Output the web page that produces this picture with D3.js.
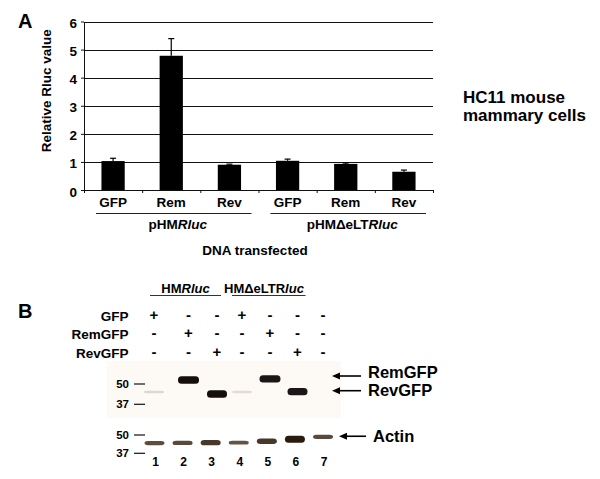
<!DOCTYPE html>
<html>
<head>
<meta charset="utf-8">
<script src="https://cdn.jsdelivr.net/npm/d3@7"></script>
<style>
  body { margin: 0; background: #fff; }
  text { font-family: "Liberation Sans", Arial, sans-serif; font-weight: bold; fill: #000; }
</style>
</head>
<body>
<div id="chart"></div>
<script>
// Panel A: relative Rluc values
const groups = ["pHMRluc", "pHMΔeLTRluc"];
const treatments = ["GFP", "Rem", "Rev", "GFP", "Rem", "Rev"];
const rlucMeans = [1.03, 4.78, 0.90, 1.04, 0.93, 0.65];
const rlucErrors = [0.10, 0.61, 0.02, 0.06, 0.03, 0.06];
const yTicks = [0, 1, 2, 3, 4, 5, 6];

// Panel B: western blot
const lanes = [1, 2, 3, 4, 5, 6, 7];
const conditionRows = ["GFP", "RemGFP", "RevGFP"];
const gfpSigns = ["+", "-", "-", "+", "-", "-", "-"];
const remGfpSigns = ["-", "+", "-", "-", "+", "-", "-"];
const revGfpSigns = ["-", "-", "+", "-", "-", "+", "-"];
const markerKDa = [50, 37];
const remGfpSignal = [0, 1, 0, 0, 0.95, 0, 0];
const remGfpKDa = [53, 53.1, 53, 53, 54, 53, 53];
const revGfpSignal = [0.1, 0, 1, 0.08, 0, 0.95, 0];
const revGfpKDa = [44.4, 44, 43.1, 44.4, 44, 44.6, 44];
const actinSignal = [0.72, 0.74, 0.84, 0.68, 0.84, 1, 0.74];
const actinKDa = [43.8, 43.9, 44.1, 44.1, 45.1, 46.6, 48.5];

const width = 600, height = 479;
const svg = d3.select("#chart").append("svg")
    .attr("width", width)
    .attr("height", height);

// ---------- Panel A ----------
const plot = { left: 84, right: 433, top: 21.5, bottom: 190 };

const x = d3.scaleBand()
    .domain(d3.range(treatments.length))
    .range([plot.left, plot.right]);

const y = d3.scaleLinear()
    .domain([0, 6])
    .range([plot.bottom, plot.top]);

// gridlines
svg.append("g")
    .selectAll("line")
    .data(yTicks.filter(d => d > 0))
    .join("line")
    .attr("x1", plot.left)
    .attr("x2", plot.right)
    .attr("y1", d => Math.round(y(d)) + 0.5)
    .attr("y2", d => Math.round(y(d)) + 0.5)
    .attr("stroke", "#111")
    .attr("stroke-width", 1.1);

// y axis
const yAxis = svg.append("g")
    .attr("transform", `translate(${plot.left},0)`)
    .call(d3.axisLeft(y).tickValues(yTicks).tickFormat(d3.format("d"))
        .tickSize(3).tickSizeOuter(0).tickPadding(4));
yAxis.attr("font-family", null).attr("font-size", null);
yAxis.selectAll("text").attr("font-size", 13.5).attr("dy", "0.45em");
yAxis.selectAll("path, line").attr("stroke", "#111");

// x axis (ticks at band boundaries)
const xEdge = d3.scaleLinear().domain([0, treatments.length]).range([plot.left, plot.right]);
const xAxis = svg.append("g")
    .attr("transform", `translate(0,${plot.bottom})`)
    .call(d3.axisBottom(xEdge).ticks(treatments.length).tickFormat("").tickSize(3).tickSizeOuter(3));
xAxis.selectAll("path, line").attr("stroke", "#111");

// bars
svg.append("g")
    .selectAll("rect")
    .data(rlucMeans)
    .join("rect")
    .attr("x", (d, i) => x(i) + x.bandwidth() * 0.3)
    .attr("width", x.bandwidth() * 0.4)
    .attr("y", d => y(d))
    .attr("height", d => y(0) - y(d))
    .attr("fill", "#000");

// error bars (upper only)
const err = svg.append("g").attr("stroke", "#000").attr("stroke-width", 1.2);
err.selectAll(".stem")
    .data(rlucMeans)
    .join("line")
    .attr("class", "stem")
    .attr("x1", (d, i) => x(i) + x.bandwidth() / 2)
    .attr("x2", (d, i) => x(i) + x.bandwidth() / 2)
    .attr("y1", d => y(d))
    .attr("y2", (d, i) => y(d + rlucErrors[i]));
err.selectAll(".cap")
    .data(rlucMeans)
    .join("line")
    .attr("class", "cap")
    .attr("x1", (d, i) => x(i) + x.bandwidth() / 2 - 3)
    .attr("x2", (d, i) => x(i) + x.bandwidth() / 2 + 3)
    .attr("y1", (d, i) => y(d + rlucErrors[i]))
    .attr("y2", (d, i) => y(d + rlucErrors[i]));

// treatment labels
svg.append("g")
    .selectAll("text")
    .data(treatments)
    .join("text")
    .attr("x", (d, i) => x(i) + x.bandwidth() / 2)
    .attr("y", 207)
    .attr("text-anchor", "middle")
    .attr("font-size", 13.5)
    .text(d => d);

// group underlines and names
groups.forEach((g, gi) => {
    const x1 = x(gi * 3) + 12;
    const x2 = x(gi * 3 + 2) + x.bandwidth() - 7;
    svg.append("line")
        .attr("x1", x1).attr("x2", x2)
        .attr("y1", 213.5).attr("y2", 213.5)
        .attr("stroke", "#222").attr("stroke-width", 1.2);
    const t = svg.append("text")
        .attr("x", (x1 + x2) / 2 + 4)
        .attr("y", 229)
        .attr("text-anchor", "middle")
        .attr("font-size", 13.5);
    const split = g.endsWith("Rluc") ? g.length - 4 : g.length - 3;
    t.append("tspan").text(g.slice(0, split));
    t.append("tspan").attr("font-style", "italic").text(g.slice(split));
});

svg.append("text")
    .attr("x", 255)
    .attr("y", 255)
    .attr("text-anchor", "middle")
    .attr("font-size", 13.5)
    .text("DNA transfected");

svg.append("text")
    .attr("transform", `translate(51,${(y(0) + y(6)) / 2 - 15}) rotate(-90)`)
    .attr("text-anchor", "middle")
    .attr("font-size", 13.5)
    .text("Relative Rluc value");

svg.append("text")
    .attr("x", 18).attr("y", 28)
    .attr("font-size", 20)
    .text("A");

const hc = svg.append("text").attr("font-size", 17);
hc.append("tspan").attr("x", 463).attr("y", 102.5).text("HC11 mouse");
hc.append("tspan").attr("x", 463).attr("y", 120.5).text("mammary cells");

// ---------- Panel B ----------
svg.append("text")
    .attr("x", 18).attr("y", 318)
    .attr("font-size", 20)
    .text("B");

const laneX = d3.scaleOrdinal().domain(lanes).range([154, 188.5, 217, 242, 270, 297.5, 323]);
const actinX = d3.scalePoint().domain(lanes).range([154.5, 323]);
const yUpper = d3.scaleLog().domain([50, 37]).range([384, 404.3]);
const yLower = d3.scaleLog().domain([50, 37]).range([435, 453.3]);

// membrane background
svg.append("rect")
    .attr("x", 107).attr("y", 361)
    .attr("width", 234).attr("height", 57)
    .attr("fill", "#fdfaf5");

// plasmid headers
const headers = [
    { name: "HMRluc", split: 2, lanes: [1, 3] },
    { name: "HMΔeLTRluc", split: 7, lanes: [4, 6] }
];
headers.forEach(h => {
    const first = h.lanes[0] === 1;
    const x1 = laneX(h.lanes[0]) + (first ? -4 : -10);
    const x2 = laneX(h.lanes[1]) + (first ? 4 : 8);
    svg.append("line")
        .attr("x1", x1).attr("x2", x2)
        .attr("y1", 295.5).attr("y2", 295.5)
        .attr("stroke", "#333").attr("stroke-width", 1.2);
    const t = svg.append("text")
        .attr("x", first ? (x1 + x2) / 2 : x1 - 8)
        .attr("y", 293)
        .attr("text-anchor", first ? "middle" : "start")
        .attr("font-size", 13);
    t.append("tspan").text(h.name.slice(0, h.split));
    t.append("tspan").attr("font-style", "italic").text(h.name.slice(h.split));
});

// condition rows
const signRows = [gfpSigns, remGfpSigns, revGfpSigns];
const rowY = [320.5, 339.3, 357.7];
conditionRows.forEach((name, r) => {
    svg.append("text")
        .attr("x", 128.5).attr("y", rowY[r])
        .attr("text-anchor", "end")
        .attr("font-size", 13.5)
        .text(name);
    svg.append("g")
        .selectAll("text")
        .data(signRows[r])
        .join("text")
        .attr("x", (d, i) => laneX(lanes[i]))
        .attr("y", rowY[r] - 1)
        .attr("text-anchor", "middle")
        .attr("font-size", 15)
        .text(d => d);
});

// size markers
[yUpper, yLower].forEach(sc => {
    const m = svg.append("g");
    m.selectAll("text")
        .data(markerKDa)
        .join("text")
        .attr("x", 129)
        .attr("y", d => sc(d) + 4)
        .attr("text-anchor", "end")
        .attr("font-size", 11.5)
        .text(d => d);
    m.selectAll("line")
        .data(markerKDa)
        .join("line")
        .attr("x1", 134).attr("x2", 145)
        .attr("y1", d => sc(d)).attr("y2", d => sc(d))
        .attr("stroke", "#111").attr("stroke-width", 1.2);
});

// band blur
const defs = svg.append("defs");
defs.append("filter").attr("id", "soft")
    .attr("x", "-20%").attr("y", "-80%").attr("width", "140%").attr("height", "260%")
    .append("feGaussianBlur").attr("stdDeviation", 0.7);

const darkBand = d3.interpolateRgb("#f4eee4", "#120e0a");
const brownBand = d3.interpolateRgb("#d9c8b0", "#2a1d11");

function drawBands(signal, kda, sc, xs, w, hMin, hMax, color) {
    const rows = lanes
        .map((lane, i) => ({ lane, s: signal[i], kda: kda[i] }))
        .filter(d => d.s > 0);
    svg.append("g")
        .attr("filter", "url(#soft)")
        .selectAll("rect")
        .data(rows)
        .join("rect")
        .attr("x", d => xs(d.lane) - w / 2)
        .attr("width", w)
        .attr("height", d => Math.max(2, hMin + (hMax - hMin) * d.s))
        .attr("y", d => sc(d.kda) - Math.max(2, hMin + (hMax - hMin) * d.s) / 2)
        .attr("rx", 3.5)
        .attr("fill", d => color(d.s));
}
drawBands(remGfpSignal, remGfpKDa, yUpper, laneX, 21, 2, 7.5, darkBand);
drawBands(revGfpSignal, revGfpKDa, yUpper, laneX, 20, 2, 7.5, darkBand);
drawBands(actinSignal, actinKDa, yLower, actinX, 20, -3, 7, brownBand);

// arrows
function arrow(x1, x2, yy, label, dy) {
    svg.append("line")
        .attr("x1", x1 + 6).attr("x2", x2)
        .attr("y1", yy).attr("y2", yy)
        .attr("stroke", "#000").attr("stroke-width", 1.6);
    svg.append("path")
        .attr("d", `M${x1},${yy} L${x1 + 8},${yy - 3.5} L${x1 + 8},${yy + 3.5} Z`)
        .attr("fill", "#000");
    svg.append("text")
        .attr("x", x2 + 7).attr("y", yy + dy)
        .attr("font-size", 16.5)
        .text(label);
}
arrow(332, 361, yUpper(d3.max(remGfpKDa)) - 2.8, "RemGFP", 2);
arrow(332, 361, yUpper(d3.max(revGfpKDa)) - 1, "RevGFP", 5.5);
arrow(339, 366, yLower(d3.max(actinKDa)) - 0.6, "Actin", 6);

// lane numbers
svg.append("g")
    .selectAll("text")
    .data(lanes)
    .join("text")
    .attr("x", d => actinX(d) + 1)
    .attr("y", 466)
    .attr("text-anchor", "middle")
    .attr("font-size", 12)
    .text(d => d);
</script>
</body>
</html>
